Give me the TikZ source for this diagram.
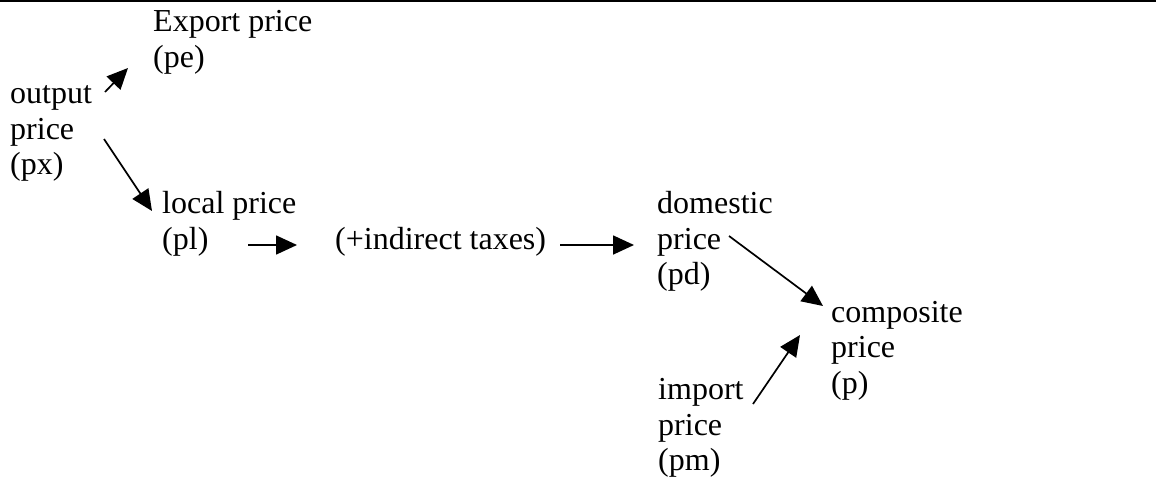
\documentclass[tikz,border=0pt]{standalone}
\usepackage{fontspec}
\setmainfont{Liberation Serif}
\usetikzlibrary{arrows.meta}
\begin{document}
\begin{tikzpicture}[x=1pt,y=-1pt,
  lbl/.style={anchor=north west,inner sep=0pt,align=left,
    font=\fontsize{32}{35.5}\selectfont},
  arr/.style={line width=1.7pt,-{Triangle[length=21pt,width=19pt]}}]
\useasboundingbox (0,0) rectangle (1156,477);
\draw[line width=2pt] (0,1) -- (1156,1);
\node[lbl] (exportN) at (153,6.5) {\strut Export price\\(pe)};
\node[lbl] (outputN) at (10,78.5) {\strut output\\price\\(px)};
\node[lbl] (localN) at (162,188.5) {\strut local price\\(pl)};
\node[lbl] (taxN) at (335,224) {\strut (+indirect taxes)};
\node[lbl] (domN) at (657,188.5) {\strut domestic\\price\\(pd)};
\node[lbl] (compN) at (831,297) {\strut composite\\price\\(p)};
\node[lbl] (impN) at (658,374.5) {\strut import\\price\\(pm)};
\draw[arr] ([shift={(95,13.5)}]outputN.north west) -- ([shift={(-25,61.5)}]exportN.north west);
\draw[arr] ([shift={(94,60.5)}]outputN.north west) -- ([shift={(-10,22.5)}]localN.north west);
\draw[arr] ([shift={(86,56.5)}]localN.north west) -- ([shift={(-38,21)}]taxN.north west);
\draw[arr] ([shift={(225,21)}]taxN.north west) -- ([shift={(-23,56.5)}]domN.north west);
\draw[arr] ([shift={(72,47.5)}]domN.north west) -- ([shift={(-8,9)}]compN.north west);
\draw[arr] ([shift={(95,29.5)}]impN.north west) -- ([shift={(-31,38)}]compN.north west);
\end{tikzpicture}
\end{document}
